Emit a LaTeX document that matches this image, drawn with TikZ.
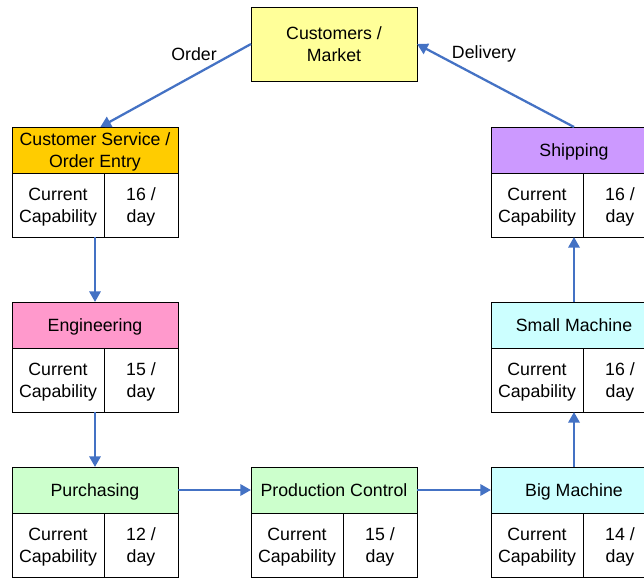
\documentclass[tikz,border=0pt]{standalone}
\usepackage{fontspec}
\setmainfont{Liberation Sans}
\usetikzlibrary{arrows.meta,positioning}

\definecolor{flowblue}{RGB}{68,114,196}
\definecolor{csorange}{RGB}{255,204,0}
\definecolor{engpink}{RGB}{255,153,204}
\definecolor{mintgreen}{RGB}{204,255,204}
\definecolor{paleaqua}{RGB}{204,255,255}
\definecolor{lilac}{RGB}{204,153,255}
\definecolor{paleyellow}{RGB}{255,255,153}

\tikzset{
	box/.style={draw=black, line width=0.75pt, align=center, inner sep=0pt, outer sep=0pt,
		text depth=0pt, font=\fontsize{13.3}{16.5}\selectfont},
	head/.style={box, anchor=north west, minimum width=124.5pt, minimum height=34.5pt},
	cell/.style={box, anchor=north west, fill=white, minimum height=48pt},
	flow/.style={draw=flowblue, line width=1.7pt, -{Triangle[length=8pt,width=8.5pt]}},
	tag/.style={font=\fontsize{13.3}{16.5}\selectfont}
}

% one station: name, x, y, fill, title, rate
\newcommand{\station}[6]{
	\node[head, fill=#4] (#1) at (#2,#3) {#5};
	\node[cell, minimum width=69pt] (#1-cap) at (#1.south west) {Current\\Capability};
	\node[cell, minimum width=55.5pt] (#1-rate) at (#1-cap.north east) {#6 /\\day};
}

\begin{document}
\begin{tikzpicture}[x=0.75pt,y=0.75pt,yscale=-1,xscale=1]
	\useasboundingbox (0,0) rectangle (644,578);

	% market
	\node[box, anchor=north west, fill=paleyellow, minimum width=124.5pt, minimum height=55.5pt] (cust) at (251,7) {Customers /\\Market};

	% stations
	\station{cs}{12}{127}{csorange}{Customer Service /\\Order Entry}{16}
	\station{eng}{12}{302}{engpink}{Engineering}{15}
	\station{purch}{12}{467}{mintgreen}{Purchasing}{12}
	\station{prod}{251}{467}{mintgreen}{Production Control}{15}
	\station{big}{491}{467}{paleaqua}{Big Machine}{14}
	\station{small}{491}{302}{paleaqua}{Small Machine}{16}
	\station{ship}{491}{127}{lilac}{Shipping}{16}

	% flow
	\draw[flow] (cust.west) -- ([xshift=4pt]cs.north);
	\draw[flow] (cs-cap.south -| cs.south) -- (eng.north);
	\draw[flow] (eng-cap.south -| eng.south) -- (purch.north);
	\draw[flow] (purch.east) -- (prod.west);
	\draw[flow] (prod.east) -- (big.west);
	\draw[flow] (big.north) -- (small-cap.south -| small.south);
	\draw[flow] (small.north) -- (ship-cap.south -| ship.south);
	\draw[flow] (ship.north) -- (cust.east);

	\node[tag] (order) at (194,54) {Order};
	\node[tag] (delivery) at (484,54) {Delivery};
\end{tikzpicture}
\end{document}
